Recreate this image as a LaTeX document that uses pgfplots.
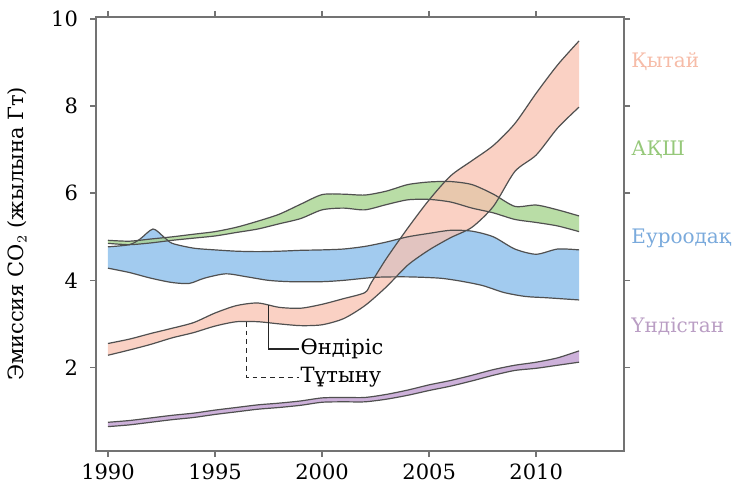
\documentclass[border=0pt]{standalone}
\usepackage{fontspec}
\setmainfont{DejaVu Serif}
\usepackage{pgfplots}
\pgfplotsset{compat=1.18}
\usepgfplotslibrary{fillbetween}

\definecolor{chinafill}{RGB}{248,194,176}
\definecolor{usafill}{RGB}{168,212,144}
\definecolor{eufill}{RGB}{146,194,236}
\definecolor{indfill}{RGB}{200,168,214}
\definecolor{edge}{RGB}{80,80,80}
\definecolor{frame}{RGB}{115,115,115}
\definecolor{chinalab}{RGB}{246,188,168}
\definecolor{usalab}{RGB}{150,200,122}
\definecolor{eulab}{RGB}{122,170,220}
\definecolor{indlab}{RGB}{186,158,196}

\begin{document}
\begin{tikzpicture}
\begin{axis}[
  at={(0,0)}, anchor=south west,
  scale only axis, width=264pt, height=217pt,
  xmin=1989.44, xmax=2014.1, ymin=0.08, ymax=10.05,
  xtick={1990,1995,2000,2005,2010}, ytick={2,4,6,8,10},
  tick align=outside, major tick length=3pt,
  axis line style={frame, line width=0.8pt},
  tick style={frame, line width=0.8pt},
  ticklabel style={font=\fontsize{10.5}{12}\selectfont},
  yticklabel style={xshift=-2.5pt},
  /pgf/number format/assume math mode=true,
  /pgf/number format/1000 sep={},
  clip=false,
  edgeline/.style={edge, line width=0.6pt, smooth, tension=0.45},
]
% China: production (upper) and consumption (lower)
\addplot[edgeline, name path=cnP] coordinates {
 (1990,2.55) (1991,2.65) (1992,2.78) (1993,2.90) (1994,3.03) (1995,3.25)
 (1996,3.42) (1997,3.48) (1998,3.38) (1999,3.36) (2000,3.45) (2001,3.58)
 (2002,3.72) (2002.3,3.95) (2003,4.50) (2004,5.20) (2005,5.85) (2006,6.40)
 (2007,6.75) (2008,7.10) (2009,7.60) (2010,8.30) (2011,8.95) (2012,9.50)};
\addplot[edgeline, name path=cnC] coordinates {
 (1990,2.28) (1991,2.40) (1992,2.53) (1993,2.68) (1994,2.80) (1995,2.95)
 (1996,3.05) (1997,3.05) (1998,3.00) (1999,2.96) (2000,2.98) (2001,3.12)
 (2002,3.42) (2003,3.85) (2004,4.35) (2005,4.70) (2006,4.98) (2007,5.22)
 (2008,5.70) (2009,6.50) (2010,6.88) (2011,7.50) (2012,7.98)};
% USA
\addplot[edgeline, name path=usP] coordinates {
 (1990,4.92) (1991,4.90) (1992,4.95) (1993,5.00) (1994,5.06) (1995,5.12)
 (1996,5.22) (1997,5.36) (1998,5.52) (1999,5.75) (2000,5.97) (2001,5.98)
 (2002,5.96) (2003,6.05) (2004,6.20) (2005,6.26) (2006,6.27) (2007,6.20)
 (2008,5.98) (2009,5.70) (2010,5.73) (2011,5.62) (2012,5.48)};
\addplot[edgeline, name path=usC] coordinates {
 (1990,4.85) (1991,4.82) (1992,4.86) (1993,4.92) (1994,4.97) (1995,5.02)
 (1996,5.10) (1997,5.18) (1998,5.30) (1999,5.42) (2000,5.62) (2001,5.66)
 (2002,5.62) (2003,5.74) (2004,5.85) (2005,5.86) (2006,5.80) (2007,5.66)
 (2008,5.55) (2009,5.40) (2010,5.33) (2011,5.25) (2012,5.12)};
% European Union
\addplot[edgeline, name path=euC] coordinates {
 (1990,4.77) (1991,4.82) (1991.5,4.95) (1992.1,5.18) (1992.6,5.0) (1993,4.85)
 (1994,4.74) (1995,4.70) (1996,4.67) (1997,4.66) (1998,4.67) (1999,4.69)
 (2000,4.70) (2001,4.72) (2002,4.78) (2003,4.88) (2004,5.00) (2005,5.08)
 (2006,5.15) (2007,5.13) (2008,5.00) (2009,4.72) (2010,4.60) (2011,4.72) (2012,4.70)};
\addplot[edgeline, name path=euP] coordinates {
 (1990,4.28) (1991,4.18) (1992,4.05) (1993,3.95) (1993.8,3.93) (1994.5,4.05)
 (1995.5,4.15) (1996.5,4.08) (1997.5,4.00) (1998.5,3.97) (2000,3.97) (2001,4.00)
 (2002.5,4.07) (2004,4.08) (2005.5,4.05) (2006.5,3.98) (2007.5,3.88) (2008.5,3.72)
 (2009.5,3.63) (2010.5,3.60) (2012,3.55)};
% India
\addplot[edgeline, name path=inP] coordinates {
 (1990,0.74) (1991,0.78) (1992,0.84) (1993,0.90) (1994,0.95) (1995,1.02)
 (1996,1.08) (1997,1.14) (1998,1.18) (1999,1.23) (2000,1.30) (2001,1.31)
 (2002,1.31) (2003,1.38) (2004,1.48) (2005,1.60) (2006,1.70) (2007,1.82)
 (2008,1.95) (2009,2.05) (2010,2.12) (2011,2.22) (2012,2.38)};
\addplot[edgeline, name path=inC] coordinates {
 (1990,0.64) (1991,0.68) (1992,0.74) (1993,0.80) (1994,0.85) (1995,0.92)
 (1996,0.98) (1997,1.04) (1998,1.08) (1999,1.13) (2000,1.20) (2001,1.21)
 (2002,1.21) (2003,1.27) (2004,1.36) (2005,1.47) (2006,1.57) (2007,1.69)
 (2008,1.82) (2009,1.93) (2010,1.98) (2011,2.05) (2012,2.12)};

\addplot[eufill, fill opacity=0.85] fill between[of=euC and euP];
\addplot[usafill, fill opacity=0.8] fill between[of=usP and usC];
\addplot[chinafill, fill opacity=0.75] fill between[of=cnP and cnC];
\addplot[indfill, fill opacity=0.9] fill between[of=inP and inC];

% production / consumption pointers
\draw[black!85, line width=0.7pt] (axis cs:1997.49,3.43) |- (axis cs:1998.9,2.42);
\draw[black!85, line width=0.7pt, dash pattern=on 2.4pt off 2pt] (axis cs:1996.48,3.05) |- (axis cs:1998.9,1.77);
\node[anchor=west, inner sep=0.8pt, font=\fontsize{10.5}{12}\selectfont] at (axis cs:1998.9,2.42) {Өндіріс};
\node[anchor=west, inner sep=0.8pt, font=\fontsize{10.5}{12}\selectfont] at (axis cs:1998.9,1.77) {Тұтыну};

% region names
\node[anchor=west, inner sep=0pt, xshift=3.5pt, font=\fontsize{10}{12}\selectfont, text=chinalab] at (axis cs:2014.1,9.02) {Қытай};
\node[anchor=west, inner sep=0pt, xshift=3.5pt, font=\fontsize{10}{12}\selectfont, text=usalab] at (axis cs:2014.1,7.00) {АҚШ};
\node[anchor=west, inner sep=0pt, xshift=3.5pt, font=\fontsize{10}{12}\selectfont, text=eulab] at (axis cs:2014.1,4.97) {Еуроодақ};
\node[anchor=west, inner sep=0pt, xshift=3.5pt, font=\fontsize{10}{12}\selectfont, text=indlab] at (axis cs:2014.1,2.93) {Үндістан};

\path (rel axis cs:0,0.5) ++(-39.5pt,0pt) node[rotate=90, anchor=center, font=\fontsize{10.5}{12}\selectfont] {Эмиссия CO$_2$ (жылына Гт)};
\end{axis}
\pgfresetboundingbox
\path[use as bounding box] (-48pt,-15.5pt) rectangle (329pt,225.5pt);
\end{tikzpicture}
\end{document}
